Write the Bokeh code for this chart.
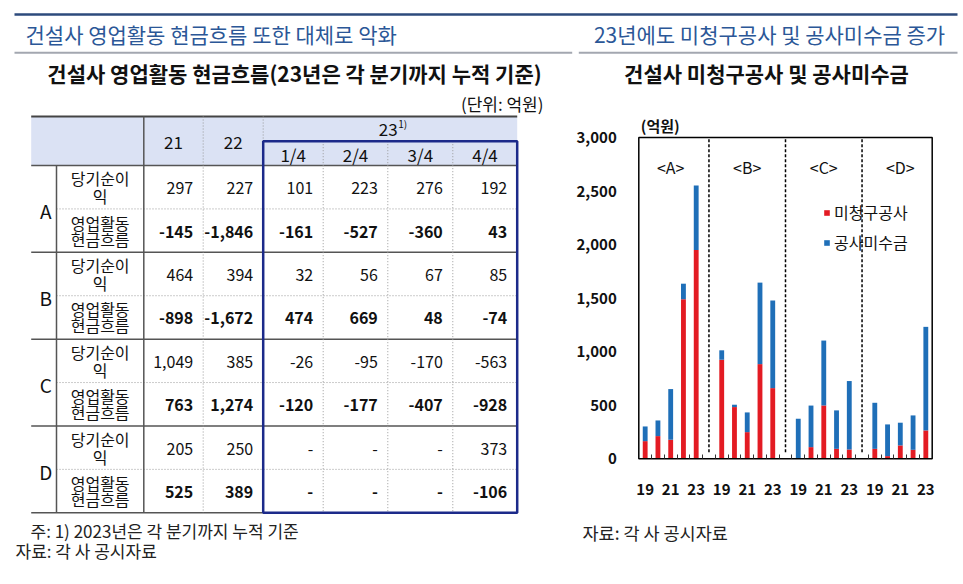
from bokeh.plotting import figure
from bokeh.models import (Range1d, FixedTicker, NumeralTickFormatter, Legend, LegendItem,
                          ColumnDataSource, LinearAxis)
from bokeh.embed import file_html
from bokeh.resources import INLINE
from bokeh.core.properties import value

FONT = "Noto Sans CJK KR"
NUM_FONT = "Liberation Sans Narrow, Noto Sans CJK KR"
TITLE_BLUE = "#2b5797"
RED = "#e31b23"
BLUE = "#1f6fb8"

# ---------------- data: table ----------------
table_companies = ["A", "B", "C", "D"]
table_years = ["21", "22"]
table_quarters = ["1/4", "2/4", "3/4", "4/4"]
row_label_net = ["당기순이", "익"]
row_label_cf = ["영업활동", "현금흐름"]
net_income_A = [297, 227, 101, 223, 276, 192]
net_income_B = [464, 394, 32, 56, 67, 85]
net_income_C = [1049, 385, -26, -95, -170, -563]
net_income_D = [205, 250, None, None, None, 373]
op_cashflow_A = [-145, -1846, -161, -527, -360, 43]
op_cashflow_B = [-898, -1672, 474, 669, 48, -74]
op_cashflow_C = [763, 1274, -120, -177, -407, -928]
op_cashflow_D = [525, 389, None, None, None, -106]

# ---------------- data: chart ----------------
chart_companies = ["A", "B", "C", "D"]
chart_years = ["19", "20", "21", "22", "23"]
unbilled_A = [165, 212, 178, 1490, 1950]
unbilled_B = [925, 483, 249, 884, 660]
unbilled_C = [5, 109, 498, 93, 87]
unbilled_D = [93, 25, 125, 84, 265]
receivable_A = [137, 146, 473, 145, 602]
receivable_B = [88, 22, 184, 761, 818]
receivable_C = [369, 388, 606, 359, 639]
receivable_D = [430, 296, 212, 321, 967]
y_ticks = [0, 500, 1000, 1500, 2000, 2500, 3000]

# ---------------- page (pixel coordinates) ----------------
W, H = 962, 583
p = figure(width=W, height=H, x_range=Range1d(0, W), y_range=Range1d(H, 0),
           output_backend="svg", toolbar_location=None, min_border=0,
           x_axis_type=None, y_axis_type=None)
p.outline_line_color = None
p.background_fill_color = "white"
p.border_fill_color = "white"


def txt(x, y, s, size="15px", align="left", color="#111", style="normal", font=FONT):
    p.text(x=[x], y=[y], text=[s], text_font=value(font), text_font_size=size,
           text_align=align, text_baseline="middle", text_color=color, text_font_style=style)


def fmt(v):
    return "-" if v is None else f"{v:,}"


# ---------------- headings ----------------
p.segment(x0=[14], y0=[14], x1=[957], y1=[14], line_color="#2d4a7c", line_width=2.5)
txt(25, 33, "건설사 영업활동 현금흐름 또한 대체로 악화", size="21px", color=TITLE_BLUE)
txt(769, 33, "23년에도 미청구공사 및 공사미수금 증가", size="21px", align="center", color=TITLE_BLUE)
p.segment(x0=[14, 578.3], y0=[52.3, 52.3], x1=[571.7, 957], y1=[52.3, 52.3], line_color="#a3a7b0", line_width=2)
txt(294, 72, "건설사 영업활동 현금흐름(23년은 각 분기까지 누적 기준)", size="21px", align="center", style="bold")
txt(766, 72, "건설사 미청구공사 및 공사미수금", size="21px", align="center", style="bold")
txt(543, 103, "(단위: 억원)", size="17px", align="right")

# ---------------- table ----------------
t_left, t_letter, t_label = 30.7, 56.0, 143.3
col_edges = [143.3, 202.7, 262.7, 322.7, 387.3, 452.3, 516.7]
t_top, t_sub, t_head = 116.0, 140.7, 165.0
row_h = 43.41
t_bottom = t_head + 8 * row_h

p.quad(left=[t_left], right=[col_edges[-1]], top=[t_top], bottom=[t_head], fill_color="#dbe2f4", line_color=None)

p.segment(x0=[t_left], y0=[t_top], x1=[col_edges[-1]], y1=[t_top], line_color="#444", line_width=2)
p.segment(x0=[t_left], y0=[t_head], x1=[col_edges[-1]], y1=[t_head], line_color="#555", line_width=1.5)
grp_lines = [t_head + 2 * row_h * k for k in range(1, 5)]
p.segment(x0=[t_left] * 4, y0=grp_lines, x1=[col_edges[-1]] * 4, y1=grp_lines, line_color="#555", line_width=1.5)
mid_lines = [t_head + (2 * k + 1) * row_h for k in range(4)]
p.segment(x0=[t_letter] * 4, y0=mid_lines, x1=[col_edges[-1]] * 4, y1=mid_lines,
          line_color="#999", line_width=1, line_dash="1 2")
p.segment(x0=[col_edges[2]], y0=[t_sub], x1=[col_edges[-1]], y1=[t_sub], line_color="#999", line_width=1, line_dash="1 2")

p.segment(x0=[t_letter], y0=[t_head], x1=[t_letter], y1=[t_bottom], line_color="#555", line_width=1.5)
p.segment(x0=[t_label], y0=[t_top], x1=[t_label], y1=[t_bottom], line_color="#555", line_width=1.5)
p.segment(x0=col_edges[1:3], y0=[t_top] * 2, x1=col_edges[1:3], y1=[t_bottom] * 2,
          line_color="#999", line_width=1, line_dash="1 2")
p.segment(x0=col_edges[3:6], y0=[t_sub] * 3, x1=col_edges[3:6], y1=[t_bottom] * 3,
          line_color="#999", line_width=1, line_dash="1 2")

for j, yr in enumerate(table_years):
    txt((col_edges[j] + col_edges[j + 1]) / 2, (t_top + t_head) / 2 + 1, yr, size="17px", align="center", font=NUM_FONT)
q_center = (col_edges[2] + col_edges[-1]) / 2
txt(q_center - 2, (t_top + t_sub) / 2 + 1, "23", size="17px", align="center", font=NUM_FONT)
txt(q_center + 8, (t_top + t_sub) / 2 - 5, "1)", size="10px", align="left", font=NUM_FONT)
for j, q in enumerate(table_quarters):
    txt((col_edges[j + 2] + col_edges[j + 3]) / 2, (t_sub + t_head) / 2 + 1, q, size="17px", align="center", font=NUM_FONT)

net_rows = [net_income_A, net_income_B, net_income_C, net_income_D]
cf_rows = [op_cashflow_A, op_cashflow_B, op_cashflow_C, op_cashflow_D]
label_x = (t_letter + t_label) / 2
for i, comp in enumerate(table_companies):
    y_net = t_head + (2 * i + 0.5) * row_h
    y_cf = t_head + (2 * i + 1.5) * row_h
    txt((t_left + t_letter) / 2 + 2, t_head + (2 * i + 1) * row_h + 2, comp, size="19px", align="center")
    txt(label_x, y_net - 9, row_label_net[0], size="16px", align="center")
    txt(label_x, y_net + 9, row_label_net[1], size="16px", align="center")
    txt(label_x, y_cf - 8, row_label_cf[0], size="16px", align="center")
    txt(label_x, y_cf + 8, row_label_cf[1], size="16px", align="center")
    for j in range(6):
        xr = col_edges[j + 1] - 10
        txt(xr, y_net + 1, fmt(net_rows[i][j]), size="16px", align="right", font=NUM_FONT)
        txt(xr, y_cf + 1, fmt(cf_rows[i][j]), size="16px", align="right", font=NUM_FONT, style="bold")

p.quad(left=[col_edges[2]], right=[col_edges[-1]], top=[t_sub], bottom=[t_bottom],
       fill_color=None, fill_alpha=0, line_color="#1c2a8a", line_width=2.5)

txt(30, 530, "주: 1) 2023년은 각 분기까지 누적 기준", size="17px", color="#222")
txt(15, 550, "자료: 각 사 공시자료", size="17px", color="#222")
txt(582, 531.7, "자료: 각 사 공시자료", size="17.5px", color="#222")

# ---------------- chart (own scales placed on the page) ----------------
slots_per_group = len(chart_years) + 1
n_slots = len(chart_companies) * slots_per_group - 1  # 23 category slots
c_left_px, c_right_px = 638.3, 931.7      # frame box in page pixels
c_zero_px, c_top_px = 458.3, 137.0        # y = 0 and y = 3000 in page pixels
y_max = y_ticks[-1]
sx = (c_right_px - c_left_px) / n_slots
sy = (c_zero_px - c_top_px) / y_max
p.extra_x_ranges = {"cx": Range1d(-c_left_px / sx, (W - c_left_px) / sx)}
p.extra_y_ranges = {"cy": Range1d((c_zero_px - H) / sy, c_zero_px / sy)}

xs, unb, rec = [], [], []
unb_all = [unbilled_A, unbilled_B, unbilled_C, unbilled_D]
rec_all = [receivable_A, receivable_B, receivable_C, receivable_D]
for g in range(len(chart_companies)):
    for k in range(len(chart_years)):
        xs.append(g * slots_per_group + k + 0.5)
        unb.append(unb_all[g][k])
        rec.append(rec_all[g][k])
src = ColumnDataSource(dict(x=xs, unbilled=unb, receivable=rec))

renderers = p.vbar_stack(["unbilled", "receivable"], x="x", width=0.38, color=[RED, BLUE],
                         line_color=None, source=src, x_range_name="cx", y_range_name="cy")

seps = [g * slots_per_group - 0.5 for g in range(1, len(chart_companies))]
p.segment(x0=seps, y0=[60] * len(seps), x1=seps, y1=[y_max] * len(seps),
          line_color="black", line_width=1.5, line_dash="3 2", x_range_name="cx", y_range_name="cy")
p.quad(left=[0], right=[n_slots], bottom=[0], top=[y_max], fill_color=None, fill_alpha=0,
       line_color="black", line_width=1.5, x_range_name="cx", y_range_name="cy")

grp_centers = [g * slots_per_group + 2.5 for g in range(len(chart_companies))]
p.text(x=grp_centers, y=[2722] * 4, text=[f"<{c}>" for c in chart_companies],
       text_font=value(FONT), text_font_size="16px", text_align="center", text_baseline="middle",
       text_color="#111", x_range_name="cx", y_range_name="cy")
p.text(x=[0.15], y=[3112], text=["(억원)"], text_font=value(FONT), text_font_size="15px",
       text_font_style="bold", text_align="left", text_baseline="middle", text_color="#111",
       x_range_name="cx", y_range_name="cy")

yax = LinearAxis(x_range_name="cx", y_range_name="cy", fixed_location=0)
yax.ticker = FixedTicker(ticks=y_ticks)
yax.formatter = NumeralTickFormatter(format="0,0")
yax.axis_line_color = None
yax.major_tick_line_color = None
yax.minor_tick_line_color = None
yax.major_label_standoff = 16
yax.major_label_text_font = FONT
yax.major_label_text_font_size = "15px"
yax.major_label_text_font_style = "bold"
yax.major_label_text_color = "#111"
p.add_layout(yax, "left")

label_pos, label_txt = [], []
for g in range(len(chart_companies)):
    for k in range(0, len(chart_years), 2):
        label_pos.append(g * slots_per_group + k + 0.5)
        label_txt.append(chart_years[k])
minor_pos = list(range(1, n_slots))
xax = LinearAxis(x_range_name="cx", y_range_name="cy", fixed_location=0)
xax.ticker = FixedTicker(ticks=label_pos, minor_ticks=minor_pos)
xax.major_label_overrides = {pp: t for pp, t in zip(label_pos, label_txt)}
xax.axis_line_color = None
xax.major_tick_line_color = None
xax.minor_tick_line_color = "#333"
xax.minor_tick_in = 4
xax.minor_tick_out = 0
xax.major_label_standoff = 19
xax.major_label_text_font = FONT
xax.major_label_text_font_size = "15px"
xax.major_label_text_font_style = "bold"
xax.major_label_text_color = "#111"
p.add_layout(xax, "below")

legend = Legend(items=[LegendItem(label="미청구공사", renderers=[renderers[0]]),
                       LegendItem(label="공사미수금", renderers=[renderers[1]])],
                location=(823, H - 254), orientation="vertical")
legend.label_text_font = FONT
legend.label_text_font_size = "16px"
legend.label_text_color = "#111"
legend.glyph_width = 7
legend.glyph_height = 7
legend.label_height = 20
legend.label_standoff = 4
legend.spacing = 6
legend.padding = 0
legend.margin = 0
legend.border_line_color = None
legend.background_fill_alpha = 0
p.add_layout(legend)

open("out.html", "w").write(file_html(p, INLINE))
